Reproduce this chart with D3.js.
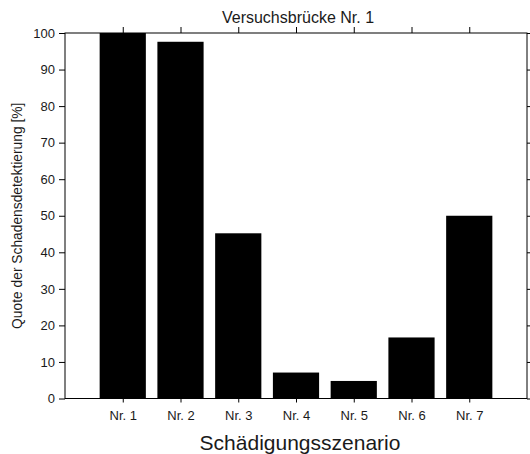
<!DOCTYPE html>
<html>
<head>
<meta charset="utf-8">
<script src="https://cdn.jsdelivr.net/npm/d3@7"></script>
<style>
  html, body { margin: 0; padding: 0; background: #fff; }
  svg text { font-family: "Liberation Sans", Arial, sans-serif; fill: #1a1a1a; }
</style>
</head>
<body>
<svg id="chart" width="530" height="454"></svg>
<script>
const categories = ["Nr. 1", "Nr. 2", "Nr. 3", "Nr. 4", "Nr. 5", "Nr. 6", "Nr. 7"];
const values = [100, 97.6, 45.2, 7.1, 4.8, 16.7, 50];
const yTicks = [0, 10, 20, 30, 40, 50, 60, 70, 80, 90, 100];
const title = "Versuchsbrücke Nr. 1";
const xTitle = "Schädigungsszenario";
const yTitle = "Quote der Schadensdetektierung [%]";

const svg = d3.select("#chart");
const L = 65, R = 527, T = 33, B = 398.5;

const x = d3.scaleLinear().domain([0, categories.length + 1]).range([L, R]);
const y = d3.scaleLinear().domain([0, 100]).range([B, T]);
const barW = 0.8;

// bars
svg.append("g").selectAll("rect")
  .data(values)
  .join("rect")
  .attr("x", (d, i) => x(i + 1 - barW / 2))
  .attr("width", (d, i) => x(i + 1 + barW / 2) - x(i + 1 - barW / 2))
  .attr("y", d => y(d))
  .attr("height", d => y(0) - y(d))
  .attr("fill", "#000");

const tickVals = categories.map((c, i) => i + 1);

// bottom axis
const gx = svg.append("g").attr("transform", `translate(0,${B})`)
  .call(d3.axisBottom(x).tickValues(tickVals).tickFormat((d) => categories[d - 1]).tickSize(4).tickPadding(8));
// top axis (ticks only)
const gxt = svg.append("g").attr("transform", `translate(0,${T})`)
  .call(d3.axisTop(x).tickValues(tickVals).tickFormat("").tickSize(6));
// left axis
const gy = svg.append("g").attr("transform", `translate(${L},0)`)
  .call(d3.axisLeft(y).tickValues(yTicks).tickSize(6).tickPadding(4));
// right axis (ticks only)
const gyr = svg.append("g").attr("transform", `translate(${R},0)`)
  .call(d3.axisRight(y).tickValues(yTicks).tickFormat("").tickSize(6));

[gx, gxt, gy, gyr].forEach(g => {
  g.select(".domain").remove();
  g.selectAll("line").attr("stroke", "#000");
  g.selectAll("text").style("font-size", "13px").attr("fill", "#1a1a1a");
});

// box
svg.append("rect")
  .attr("x", L).attr("y", T)
  .attr("width", R - L).attr("height", B - T)
  .attr("fill", "none").attr("stroke", "#000").attr("stroke-width", 1);

// title
svg.append("text")
  .attr("x", (L + R) / 2 + 2).attr("y", 23)
  .attr("text-anchor", "middle")
  .style("font-size", "16px")
  .text(title);

// x label
svg.append("text")
  .attr("x", 300).attr("y", 450)
  .attr("text-anchor", "middle")
  .style("font-size", "21px")
  .text(xTitle);

// y label
svg.append("text")
  .attr("transform", `translate(22,${(T + B) / 2}) rotate(-90)`)
  .attr("text-anchor", "middle")
  .style("font-size", "13.8px")
  .text(yTitle);
</script>
</body>
</html>
